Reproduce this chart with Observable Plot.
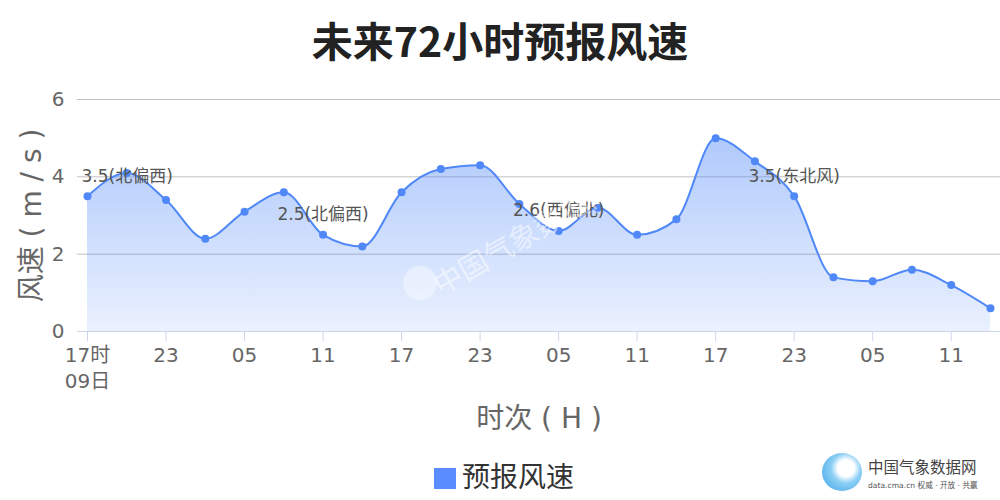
<!DOCTYPE html>
<html>
<head>
<meta charset="utf-8">
<script src="https://cdn.jsdelivr.net/npm/d3@7"></script>
<script src="https://cdn.jsdelivr.net/npm/@observablehq/plot@0.6"></script>
<style>
  html, body { margin: 0; padding: 0; background: #fff; }
  body { width: 1000px; height: 500px; position: relative; overflow: hidden;
         font-family: "DejaVu Sans", "Noto Sans CJK SC", sans-serif; }
  #title { height: 78px; line-height: 78px; text-align: center; font-size: 41px;
           font-family: "Noto Sans CJK SC", sans-serif;
           font-weight: bold; color: #222; margin-bottom: 2px; }
  #chart svg { display: block; }
  #legend { position: absolute; left: 4px; top: 455px; width: 1000px; text-align: center;
            font-size: 28px; color: #333; line-height: 40px; font-family: "Noto Sans CJK SC", sans-serif; }
  #legend .sw { display: inline-block; width: 22px; height: 21px; background: #5b8cff;
                vertical-align: -2px; margin-right: 6px; }
  #wm-logo { position: absolute; left: 403px; top: 266px; width: 34px; height: 34px;
             border-radius: 50%; background: rgba(255,255,255,0.4); pointer-events: none; }
  #wm-txt { position: absolute; left: 442px; top: 268px; font-size: 29px; line-height: 30px; white-space: nowrap;
            font-family: "Noto Sans CJK SC", sans-serif;
            color: rgba(255,255,255,0.5); transform: rotate(-30deg); transform-origin: left bottom; pointer-events: none; }
  #brand { position: absolute; left: 822px; top: 453px; font-family: "Noto Sans CJK SC", sans-serif; }
  #brand .icon { position: absolute; left: 0; top: 0; width: 40px; height: 38px; border-radius: 50%;
                 background: radial-gradient(circle at 60% 40%, #ffffff 0 25%, #8ccff5 45%, #3aa0e8 100%); }
  #brand .n1 { position: absolute; left: 46px; top: 2px; font-size: 15.5px; color: #444; white-space: nowrap; }
  #brand .n2 { position: absolute; left: 46px; top: 26px; font-size: 7.6px; color: #555; white-space: nowrap;
               font-family: "DejaVu Sans", "Noto Sans CJK SC", sans-serif; }
</style>
</head>
<body>
<div id="title">未来72小时预报风速</div>
<div id="chart"></div>
<div id="legend"><span class="sw"></span>预报风速</div>
<div id="wm-logo"></div><div id="wm-txt">中国气象数据网</div>
<div id="brand"><div class="icon"></div><div class="n1">中国气象数据网</div><div class="n2">data.cma.cn 权威 · 开放 · 共赢</div></div>
<script>
// ---- data ----
const hours = ["17","20","23","02","05","08","11","14","17","20","23","02","05","08","11","14","17","20","23","02","05","08","11","14"];
const speeds = [3.5,4.1,3.4,2.4,3.1,3.6,2.5,2.2,3.6,4.2,4.3,3.3,2.6,3.2,2.5,2.9,5.0,4.4,3.5,1.4,1.3,1.6,1.2,0.6];
const tickIndex = [0,2,4,6,8,10,12,14,16,18,20,22];
const tickLabels = ["17时\n09日","23","05","11","17","23","05","11","17","23","05","11"];
const yTicks = [0,2,4,6];
const labelIndex = [0,6,12,18];
const labelTexts = ["3.5(北偏西)","2.5(北偏西)","2.6(西偏北)","3.5(东北风)"];
const yTitle = "风速 ( m / s )";
const xTitle = "时次 ( H )";

const data = speeds.map((v, i) => ({i, hour: hours[i], v}));
const notes = labelIndex.map((idx, k) => ({i: idx, v: speeds[idx], text: labelTexts[k]}));
const tickMap = new Map(tickIndex.map((t, k) => [t, tickLabels[k]]));

const lineColor = "#5088f8";
const font = "DejaVu Sans, Noto Sans CJK SC, sans-serif";

const chart = Plot.plot({
  width: 1000,
  height: 360,
  marginTop: 19,
  marginBottom: 109,
  marginLeft: 77,
  marginRight: 0,
  style: {fontFamily: font, background: "transparent"},
  x: {domain: [-0.255, 23.255]},
  y: {domain: [0, 6]},
  marks: [
    Plot.ruleY(yTicks.filter(t => t > 0), {stroke: "#c0c0c0", strokeWidth: 1}),
    Plot.areaY(data, {x: "i", y: "v", curve: "monotone-x", fill: lineColor, fillOpacity: 0.3}),
    Plot.ruleY([0], {stroke: "#ccd6eb", strokeWidth: 1}),
    Plot.lineY(data, {x: "i", y: "v", curve: "monotone-x", stroke: lineColor, strokeWidth: 2}),
    Plot.dot(data, {x: "i", y: "v", r: 4, fill: lineColor, stroke: null}),
    Plot.axisX({ticks: tickIndex, tickFormat: d => tickMap.get(d), tickSize: 10, stroke: "#ccd6eb",
                tickPadding: 2, fontSize: 20, fill: "#666", lineHeight: 1.3, label: null}),
    Plot.axisY({ticks: yTicks, tickFormat: d => String(d), tickSize: 0, tickPadding: 13, fontSize: 20, fill: "#666", label: null}),
    Plot.text([yTitle], {frameAnchor: "left", textAnchor: "middle", rotate: -90, dx: -45, fontSize: 28, fill: "#666"}),
    Plot.text([xTitle], {frameAnchor: "bottom", textAnchor: "middle", dy: 96, fontSize: 28, fill: "#666"}),
    Plot.text(notes.slice(0, 1), {x: "i", y: "v", text: "text", dy: -20, dx: -6, textAnchor: "start",
                fontSize: 17, fill: "#555"}),
    Plot.text(notes.slice(1), {x: "i", y: "v", text: "text", dy: -20, fontSize: 17, fill: "#555"})
  ]
});

// vertical gradient for the area
const ns = "http://www.w3.org/2000/svg";
const defs = document.createElementNS(ns, "defs");
const grad = document.createElementNS(ns, "linearGradient");
grad.setAttribute("id", "windGrad");
grad.setAttribute("x1", "0"); grad.setAttribute("y1", "0");
grad.setAttribute("x2", "0"); grad.setAttribute("y2", "1");
[["0%", 0.45], ["100%", 0.12]].forEach(([o, a]) => {
  const s = document.createElementNS(ns, "stop");
  s.setAttribute("offset", o);
  s.setAttribute("stop-color", lineColor);
  s.setAttribute("stop-opacity", a);
  grad.appendChild(s);
});
defs.appendChild(grad);
chart.insertBefore(defs, chart.firstChild);
const areaG = chart.querySelector('g[aria-label="area"]');
if (areaG) {
  areaG.setAttribute("fill", "url(#windGrad)"); areaG.removeAttribute("fill-opacity");
  areaG.querySelectorAll("path").forEach(p => { p.setAttribute("fill", "url(#windGrad)"); p.removeAttribute("fill-opacity"); });
}

document.getElementById("chart").appendChild(chart);
</script>
</body>
</html>
